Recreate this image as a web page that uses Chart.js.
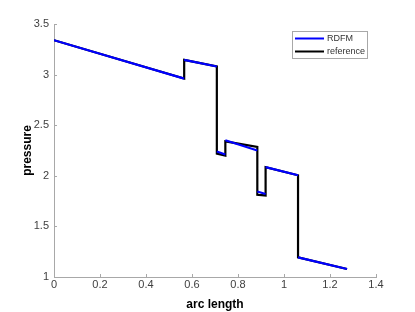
<!DOCTYPE html>
<html><head><meta charset="utf-8">
<script src="https://cdn.jsdelivr.net/npm/chart.js@4/dist/chart.umd.min.js"></script>
<style>html,body{margin:0;padding:0;background:#fff}#wrap{width:415px;height:312px}</style>
</head><body><div id="wrap"><canvas id="c" width="415" height="312"></canvas></div>
<script>
// RDFM: discontinuous segments (null = break)
const rdfmX = [0, 0.566, null, 0.566, 0.708, null, 0.708, 0.745, null, 0.745, 0.884, null, 0.884, 0.920, null, 0.920, 1.061, null, 1.061, 1.274];
const rdfmY = [3.34, 2.96, null, 3.145, 3.08, null, 2.24, 2.21, null, 2.352, 2.25, null, 1.845, 1.82, null, 2.086, 2.005, null, 1.194, 1.079];
// reference: continuous with vertical jumps
const refX = [0, 0.566, 0.566, 0.708, 0.708, 0.745, 0.745, 0.884, 0.884, 0.920, 0.920, 1.061, 1.061, 1.274];
const refY = [3.34, 2.96, 3.145, 3.08, 2.22, 2.20, 2.34, 2.286, 1.813, 1.806, 2.086, 2.005, 1.194, 1.079];
const xTicks = [0, 0.2, 0.4, 0.6, 0.8, 1, 1.2, 1.4];
const yTicks = [1, 1.5, 2, 2.5, 3, 3.5];
const seriesNames = ['RDFM', 'reference'];

function pts(xs, ys){ return xs.map((x,i)=> x===null ? {x:NaN,y:null} : {x:x,y:ys[i]}); }

const axisColor = '#a8a8a8';
const txtColor = '#404040';

const inwardTicks = {
  id:'inwardTicks',
  afterDatasetsDraw(chart){
    const ctx = chart.ctx, xs = chart.scales.x, ys = chart.scales.y;
    ctx.save();
    ctx.strokeStyle = axisColor; ctx.lineWidth = 1;
    ctx.beginPath();
    xTicks.forEach(v=>{ const p = Math.round(xs.getPixelForValue(v))+0.5; ctx.moveTo(p, ys.bottom); ctx.lineTo(p, ys.bottom-3); });
    yTicks.forEach(v=>{ const p = Math.round(ys.getPixelForValue(v))+0.5; ctx.moveTo(xs.left, p); ctx.lineTo(xs.left+3, p); });
    ctx.stroke();
    // legend box
    const lx = 292, ly = 31, lw = 75, lh = 27;
    ctx.fillStyle = '#fff'; ctx.fillRect(lx, ly, lw, lh);
    ctx.strokeStyle = '#a8a8a8'; ctx.strokeRect(lx+0.5, ly+0.5, lw, lh);
    const cols = ['#0000ff', '#000000'];
    ctx.font = '9px "Liberation Sans", Arial, sans-serif';
    ctx.textBaseline = 'middle';
    seriesNames.forEach((n,i)=>{
      const yy = ly + 7.5 + i*13;
      ctx.strokeStyle = cols[i]; ctx.lineWidth = 2;
      ctx.beginPath(); ctx.moveTo(lx+3, yy); ctx.lineTo(lx+32, yy); ctx.stroke();
      ctx.fillStyle = '#333'; ctx.fillText(n, lx+35, yy);
    });
    ctx.restore();
  }
};

new Chart(document.getElementById('c'), {
  type: 'line',
  data: {
    datasets: [
      { label: seriesNames[0], data: pts(rdfmX, rdfmY), borderColor: '#0000ff', borderWidth: 2.2, pointRadius: 0, spanGaps: false, tension: 0 },
      { label: seriesNames[1], data: pts(refX, refY), borderColor: '#000000', borderWidth: 2.2, pointRadius: 0, tension: 0 }
    ]
  },
  options: {
    responsive: false, animation: false, devicePixelRatio: 1,
    layout: { padding: { left: 0, right: 39, top: 24, bottom: 0 } },
    plugins: { legend: { display: false }, tooltip: { enabled: false } },
    scales: {
      x: {
        type: 'linear', min: 0, max: 1.4,
        afterFit(s){ s.height = 35; },
        afterBuildTicks(s){ s.ticks = xTicks.map(v=>({value:v})); },
        grid: { display: false, drawTicks: false },
        border: { display: true, color: axisColor, width: 1 },
        ticks: { padding: 1, color: txtColor, font: { family: 'Liberation Sans', size: 11 }, callback: v => String(v), maxRotation: 0 },
        title: { display: true, text: 'arc length', color: '#000', font: { family: 'Liberation Sans', size: 12, weight: 'bold' }, padding: { top: 2, bottom: 0 } }
      },
      y: {
        type: 'linear', min: 1, max: 3.5,
        afterFit(s){ s.width = 54; },
        afterBuildTicks(s){ s.ticks = yTicks.map(v=>({value:v})); },
        grid: { display: false, drawTicks: false },
        border: { display: true, color: axisColor, width: 1 },
        ticks: { padding: 5, color: txtColor, font: { family: 'Liberation Sans', size: 11 }, callback: v => String(v) },
        title: { display: true, text: 'pressure', color: '#000', font: { family: 'Liberation Sans', size: 12, weight: 'bold' }, padding: { top: 20, bottom: 0 } }
      }
    }
  },
  plugins: [inwardTicks]
});
</script></body></html>
